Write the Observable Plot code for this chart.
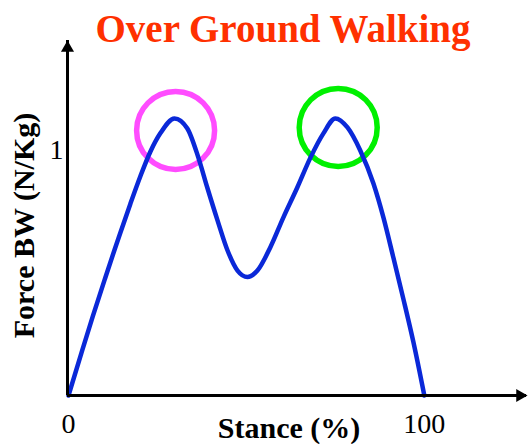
<!DOCTYPE html>
<html>
<head>
<meta charset="utf-8">
<script src="https://cdn.jsdelivr.net/npm/d3@7"></script>
<script src="https://cdn.jsdelivr.net/npm/@observablehq/plot@0.6"></script>
<style>
  html, body { margin: 0; padding: 0; background: #fff; }
  #chart svg { display: block; }
</style>
</head>
<body>
<div id="chart"></div>
<script>
// Data
const stance = [0, 3.6, 6.8, 10.1, 12.9, 14.6, 17.4, 20.2, 23.0, 25.8, 29.8, 33.4, 36.5, 39.0, 41.9, 44.7, 47.5, 50.3, 53.1, 56.7, 60.4, 64.3, 68.0, 71.6, 75.0, 78.4, 82.0, 85.7, 88.5, 91.3, 94.1, 96.9, 100];
const force  = [0, 0.172, 0.322, 0.470, 0.593, 0.665, 0.783, 0.895, 0.995, 1.070, 1.131, 1.090, 0.971, 0.849, 0.714, 0.592, 0.510, 0.484, 0.510, 0.604, 0.727, 0.849, 0.971, 1.069, 1.131, 1.094, 1.000, 0.865, 0.727, 0.563, 0.395, 0.220, 0];
const peakStance = [30.1, 75.8];
const peakForce = [1.082, 1.094];
const peakColors = ["#ff4cff", "#00f000"];
const xTicks = [0, 100];
const yTicks = [1];
const titleText = "Over Ground Walking";
const xLabel = "Stance (%)";
const yLabel = "Force BW (N/Kg)";

const xMax = 129;
const yMax = 1.449;
const serif = "'Liberation Serif', 'Times New Roman', Times, serif";

const curve = stance.map((s, i) => ({stance: s, force: force[i]}));
const peaks = peakStance.map((s, i) => ({stance: s, force: peakForce[i], color: peakColors[i]}));

const chart = Plot.plot({
  width: 528,
  height: 444,
  marginLeft: 68,
  marginRight: 1,
  marginTop: 40,
  marginBottom: 49,
  style: {fontFamily: serif, color: "#000", background: "#fff"},
  x: {domain: [0, xMax]},
  y: {domain: [0, yMax]},
  marks: [
    Plot.dot(peaks, {x: "stance", y: "force", r: 39, stroke: "color", strokeWidth: 5.5, fill: "none"}),
    Plot.line(curve, {x: "stance", y: "force", stroke: "#0a28d8", strokeWidth: 4.5, curve: "monotone-x"}),
    Plot.ruleX([0], {y1: 0, y2: yMax, stroke: "#000", strokeWidth: 3, dx: -1}),
    Plot.ruleY([0], {x1: 0, x2: xMax, stroke: "#000", strokeWidth: 3, dx: -1}),
    Plot.dot([{x: 0, y: yMax}], {x: "x", y: "y", symbol: "triangle", r: 4.85, fill: "#000", stroke: "none", dy: 7.5, dx: -1}),
    Plot.dot([{x: xMax, y: 0}], {x: "x", y: "y", symbol: "triangle", r: 4.85, fill: "#000", stroke: "none", rotate: 90, dx: -7.5}),
    Plot.axisX(xTicks, {tickSize: 0, tickPadding: 18, fontSize: 28, fontFamily: serif, label: null, tickFormat: d => String(d)}),
    Plot.axisY(yTicks, {tickSize: 0, tickPadding: 5, fontSize: 28, fontFamily: serif, label: null, tickFormat: d => String(d)}),
    Plot.text([titleText], {frameAnchor: "top", lineAnchor: "middle", textAnchor: "middle", text: d => d, fontSize: 39, fontWeight: "bold", fontFamily: serif, fill: "#ff3000", dy: -10.5, dx: -15}),
    Plot.text([xLabel], {frameAnchor: "bottom", lineAnchor: "middle", textAnchor: "middle", text: d => d, fontSize: 30, fontWeight: "bold", fontFamily: serif, fill: "#000", dy: 32.5, dx: -9}),
    Plot.text([yLabel], {frameAnchor: "left", lineAnchor: "middle", textAnchor: "middle", text: d => d, fontSize: 30, fontWeight: "bold", fontFamily: serif, fill: "#000", rotate: -90, dx: -44, dy: 7.5})
  ]
});
document.getElementById("chart").appendChild(chart);
</script>
</body>
</html>
